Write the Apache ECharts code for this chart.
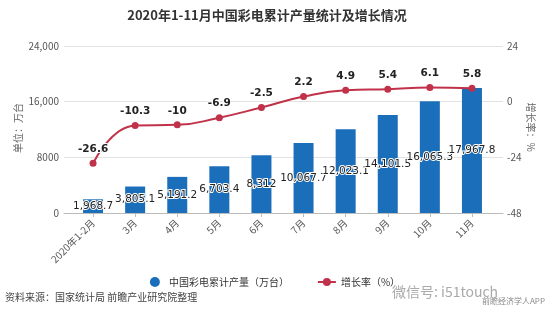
<!DOCTYPE html>
<html>
<head>
<meta charset="utf-8">
<script src="https://cdn.jsdelivr.net/npm/echarts@6/dist/echarts.min.js"></script>
<style>
  html, body { margin: 0; padding: 0; background: #fff; }
  #chart { width: 550px; height: 328px; }
</style>
</head>
<body>
<div id="chart"></div>
<script>
// Months covered by the cumulative statistics
const categories = ['2020年1-2月', '3月', '4月', '5月', '6月', '7月', '8月', '9月', '10月', '11月'];
// Cumulative colour TV output, 10k units
const output = [1968.7, 3805.1, 5191.2, 6703.4, 8312, 10067.7, 12023.1, 14101.5, 16065.3, 17967.8];
// Year-on-year growth, %
const growth = [-26.6, -10.3, -10, -6.9, -2.5, 2.2, 4.9, 5.4, 6.1, 5.8];
// Axis tick labels
const leftTickLabels = { 0: '0', 8000: '8000', 16000: '16,000', 24000: '24,000' };
const rightTickLabels = { '-48': '-48', '-24': '-24', '0': '0', '24': '24' };

const BLUE = '#1b6fba';
const RED = '#c1324a';
const fmt = v => v.toLocaleString('en-US', { maximumFractionDigits: 1 });

const chart = echarts.init(document.getElementById('chart'), null, { renderer: 'canvas' });

const labelFont = { fontFamily: 'Noto Sans CJK SC', fontSize: 10, color: '#555' };

chart.setOption({
  backgroundColor: '#fff',
  animation: false,
  title: {
    text: '2020年1-11月中国彩电累计产量统计及增长情况',
    left: 262, top: 4, textAlign: 'center',
    textStyle: { fontFamily: 'Noto Sans CJK SC', fontSize: 13, fontWeight: 'bold', color: '#333' }
  },
  legend: {
    bottom: 36, left: 'center',
    itemGap: 28, itemWidth: 18, itemHeight: 10,
    textStyle: { fontFamily: 'Noto Sans CJK SC', fontSize: 10, color: '#333' },
    data: [
      { name: '中国彩电累计产量（万台）', icon: 'circle' },
      { name: '增长率（%）' }
    ]
  },
  grid: [
    { left: 64, right: 47, top: 46, bottom: 115 },
    { left: 72, right: 57, top: 46, bottom: 115 }
  ],
  xAxis: [
    {
      type: 'category', gridIndex: 0, data: categories,
      axisLine: { lineStyle: { color: '#bbb' } },
      axisTick: { show: false }, axisLabel: { show: false }, splitLine: { show: false }
    },
    {
      type: 'category', gridIndex: 1, data: categories,
      axisLine: { show: false },
      axisTick: { show: true, alignWithLabel: true, length: 4, lineStyle: { color: '#bbb' } },
      axisLabel: Object.assign({ rotate: 45, margin: 8, interval: 0 }, labelFont)
    }
  ],
  yAxis: [
    {
      type: 'value', gridIndex: 0, min: 0, max: 24000, interval: 8000,
      axisLine: { show: false }, axisTick: { show: false },
      axisLabel: Object.assign({ formatter: v => leftTickLabels[v] ?? String(v), margin: 5 }, labelFont),
      splitLine: { lineStyle: { color: '#e2e2e2' } }
    },
    {
      type: 'value', gridIndex: 0, position: 'right', min: -48, max: 24, interval: 24,
      axisLine: { show: false }, axisTick: { show: false },
      axisLabel: Object.assign({ formatter: v => rightTickLabels[String(v)] ?? String(v), margin: 4 }, labelFont),
      splitLine: { show: false }
    },
    { type: 'value', gridIndex: 1, min: 0, max: 24000, interval: 8000, show: false },
    { type: 'value', gridIndex: 1, min: -48, max: 24, interval: 24, show: false }
  ],
  series: [
    {
      name: '中国彩电累计产量（万台）', type: 'bar',
      xAxisIndex: 1, yAxisIndex: 2,
      data: output, barWidth: 20,
      itemStyle: { color: BLUE },
      label: {
        show: true, position: 'inside',
        formatter: p => fmt(p.value),
        fontFamily: 'DejaVu Sans', fontSize: 10.5, color: '#222',
        textBorderColor: '#fff', textBorderWidth: 2
      }
    },
    {
      name: '增长率（%）', type: 'line',
      xAxisIndex: 1, yAxisIndex: 3,
      data: growth, smooth: true,
      symbol: 'circle', symbolSize: 7,
      lineStyle: { color: RED, width: 2 },
      itemStyle: { color: RED },
      label: {
        show: true, position: 'top', distance: 5,
        fontFamily: 'DejaVu Sans', fontSize: 10.5, fontWeight: 'bold', color: '#222',
        textBorderColor: '#fff', textBorderWidth: 2
      }
    }
  ],
  graphic: [
    // axis titles
    {
      type: 'text', x: 18, y: 128, rotation: Math.PI / 2,
      style: { text: '单位：万台', font: '10px "Noto Sans CJK SC"', fill: '#666', align: 'center', verticalAlign: 'middle' }
    },
    {
      type: 'text', x: 531, y: 127, rotation: -Math.PI / 2,
      style: { text: '增长率：%', font: '10px "Noto Sans CJK SC"', fill: '#666', align: 'center', verticalAlign: 'middle' }
    },
    // source note and sign-off
    {
      type: 'text', left: 5, top: 292,
      style: { text: '资料来源：国家统计局 前瞻产业研究院整理', font: '10px "Noto Sans CJK SC"', fill: '#444' }
    },
    {
      type: 'text', left: 392, top: 285,
      style: { text: '微信号: i51touch', font: '14px "Noto Sans CJK SC"', fill: '#aaa' }
    },
    {
      type: 'text', left: 482, top: 297,
      style: { text: '前瞻经济学人APP', font: '8px "Noto Sans CJK SC"', fill: '#888' }
    }
  ]
});
</script>
</body>
</html>
